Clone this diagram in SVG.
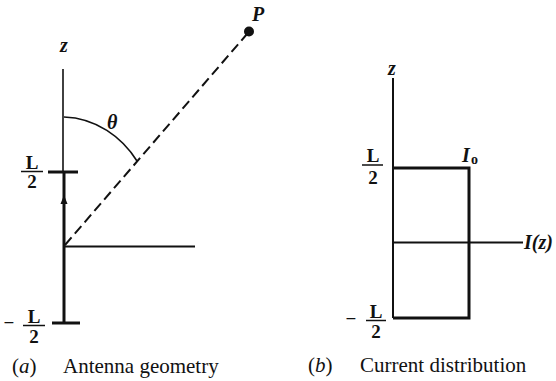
<svg xmlns="http://www.w3.org/2000/svg" width="556" height="381" viewBox="0 0 556 381">
<style>
.ln{stroke:#111;fill:none;stroke-linecap:butt}
.t{font-family:"Liberation Serif","Times New Roman",serif;fill:#111}
.fr{font-family:"Liberation Serif","Times New Roman",serif;font-weight:bold;font-size:19px;fill:#111;text-anchor:middle}
.var{font-family:"Liberation Serif","Times New Roman",serif;font-weight:bold;font-style:italic;font-size:20px;fill:#111}
.cap{font-family:"Liberation Serif","Times New Roman",serif;font-size:21px;fill:#111}
</style>
<defs>
<marker id="arr" viewBox="0 0 8 10" refX="4" refY="0" markerWidth="8" markerHeight="10" markerUnits="userSpaceOnUse" orient="auto-start-reverse">
<path d="M0,10 L4,0 L8,10 Z" fill="#111"/>
</marker>
</defs>
<rect width="556" height="381" fill="#fff"/>

<!-- Panel (a) -->
<g id="antenna">
<line class="ln" x1="63" y1="69" x2="63" y2="172" stroke-width="1.6"/>
<line class="ln" x1="64" y1="172" x2="64" y2="323" stroke-width="3"/>
<path d="M60.5,204 L64,195 L67.5,204 Z" fill="#111"/>
<line class="ln" x1="48" y1="172" x2="78" y2="172" stroke-width="3"/>
<line class="ln" x1="52" y1="323" x2="80" y2="323" stroke-width="3"/>
</g>
<g id="connectors">
<line class="ln" x1="65" y1="246.5" x2="195" y2="246.5" stroke-width="2"/>
<line class="ln" x1="65" y1="245" x2="247" y2="34" stroke-width="2" stroke-dasharray="10,5"/>
<path class="ln" d="M64,117 C96,118 122,137 137,161" stroke-width="1.6"/>
</g>
<g id="point-P">
<circle cx="249" cy="31.5" r="5" fill="#111"/>
<text class="var" x="252" y="21">P</text>
</g>
<g id="labels-a">
<text class="var" x="60" y="52">z</text>
<text class="var" x="107" y="129">θ</text>
<text class="fr" x="32" y="169">L</text>
<line class="ln" x1="21" y1="171.5" x2="43" y2="171.5" stroke-width="1.5"/>
<text class="fr" x="32" y="188">2</text>
<text class="fr" x="9" y="328.5">−</text>
<text class="fr" x="34" y="323">L</text>
<line class="ln" x1="23" y1="325.5" x2="45" y2="325.5" stroke-width="1.5"/>
<text class="fr" x="34" y="343">2</text>
<text class="cap" x="12" y="373">(<tspan font-style="italic">a</tspan>)</text>
<text class="cap" x="63" y="373">Antenna geometry</text>
</g>

<!-- Panel (b) -->
<g id="current">
<line class="ln" x1="393" y1="78" x2="393" y2="318" stroke-width="2"/>
<polyline class="ln" points="393,168 469,168 469,318 393,318" stroke-width="3"/>
<line class="ln" x1="393" y1="242.5" x2="523" y2="242.5" stroke-width="2"/>
</g>
<g id="labels-b">
<text class="var" x="388" y="75">z</text>
<text class="var" x="462" y="162" font-size="19">I</text>
<text class="t" x="471" y="164" font-size="14" font-weight="bold">o</text>
<text class="var" x="524" y="249" font-size="19">I(z)</text>
<text class="fr" x="373" y="162">L</text>
<line class="ln" x1="362" y1="165" x2="383" y2="165" stroke-width="1.5"/>
<text class="fr" x="373" y="184">2</text>
<text class="fr" x="351" y="324.5">−</text>
<text class="fr" x="376" y="318">L</text>
<line class="ln" x1="366" y1="320.5" x2="386" y2="320.5" stroke-width="1.5"/>
<text class="fr" x="376" y="338">2</text>
<text class="cap" x="308" y="372">(<tspan font-style="italic">b</tspan>)</text>
<text class="cap" x="360" y="372">Current distribution</text>
</g>
</svg>
